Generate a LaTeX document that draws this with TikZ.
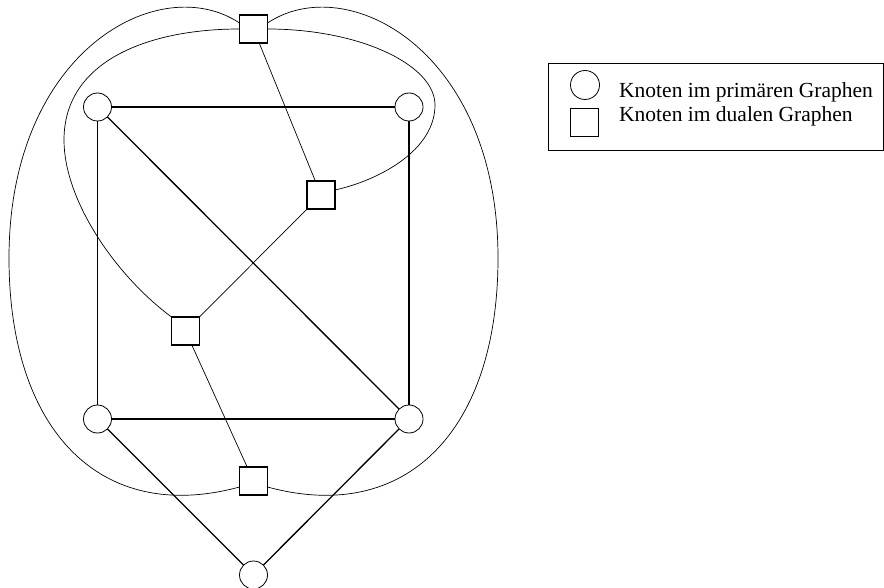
\documentclass[tikz,border=0pt]{standalone}
\usepackage{fontspec}
\setmainfont{Liberation Serif}
\begin{document}
\begin{tikzpicture}[x=1pt,y=-1pt,
  prim/.style={circle,draw,line width=0.8pt,minimum size=28pt,inner sep=0pt,outer sep=0pt},
  dual/.style={rectangle,draw,line width=1.2pt,minimum size=28pt,inner sep=0pt,outer sep=0pt},
  pedge/.style={line width=1.3pt},
  dedge/.style={line width=0.7pt},
  lbl/.style={font=\fontsize{21.5}{24}\selectfont,anchor=base west,inner sep=0pt}]
\useasboundingbox (0,0) rectangle (884,588);
% primary nodes
\node[prim] (a) at (97.5,107) {};
\node[prim] (b) at (409,107) {};
\node[prim] (c) at (97.5,419) {};
\node[prim] (d) at (409,419) {};
\node[prim] (e) at (253.5,575) {};
% dual nodes
\node[dual] (T) at (253.5,29) {};
\node[dual] (R) at (321,195) {};
\node[dual] (L) at (185.5,331) {};
\node[dual] (B) at (253.5,481) {};
% primary edges
\draw[pedge] (a) -- (b);
\draw[pedge] (b) -- (d);
\draw[pedge] (a) -- (c);
\draw[pedge] (c) -- (d);
\draw[pedge] (a) -- (d);
\draw[pedge] (c) -- (e);
\draw[pedge] (d) -- (e);
% dual edges
\draw[dedge] (T) -- (R);
\draw[dedge] (R) -- (L);
\draw[dedge] (L) -- (B);
\draw[dedge] ([yshift=6pt]T.west) .. controls (160,-30) and (9,50) .. (9,258)
  .. controls (9,430) and (100,525) .. ([yshift=-6pt]B.west);
\draw[dedge] ([yshift=6pt]T.east) .. controls (347,-30) and (498,50) .. (498,258)
  .. controls (498,430) and (407,525) .. ([yshift=-6pt]B.east);
\draw[dedge] (T.west) .. controls (150,29) and (64,60) .. (64,140)
  .. controls (64,200) and (115,275) .. (L.north west);
\draw[dedge] (T.east) .. controls (360,29) and (435,65) .. (435,105)
  .. controls (435,150) and (380,180) .. ([yshift=5pt]R.east);
% legend
\node[draw,line width=1.2pt,minimum width=335pt,minimum height=87pt,inner sep=0pt,anchor=north west] (leg) at (548,63) {};
\node[prim,minimum size=29pt] (lc) at (585,85) {};
\node[dual,line width=0.8pt] (ls) at (584.5,122) {};
\node[lbl] (t1) at (619,98) {Knoten im primären Graphen};
\node[lbl] (t2) at (619,122) {Knoten im dualen Graphen};
\end{tikzpicture}
\end{document}
